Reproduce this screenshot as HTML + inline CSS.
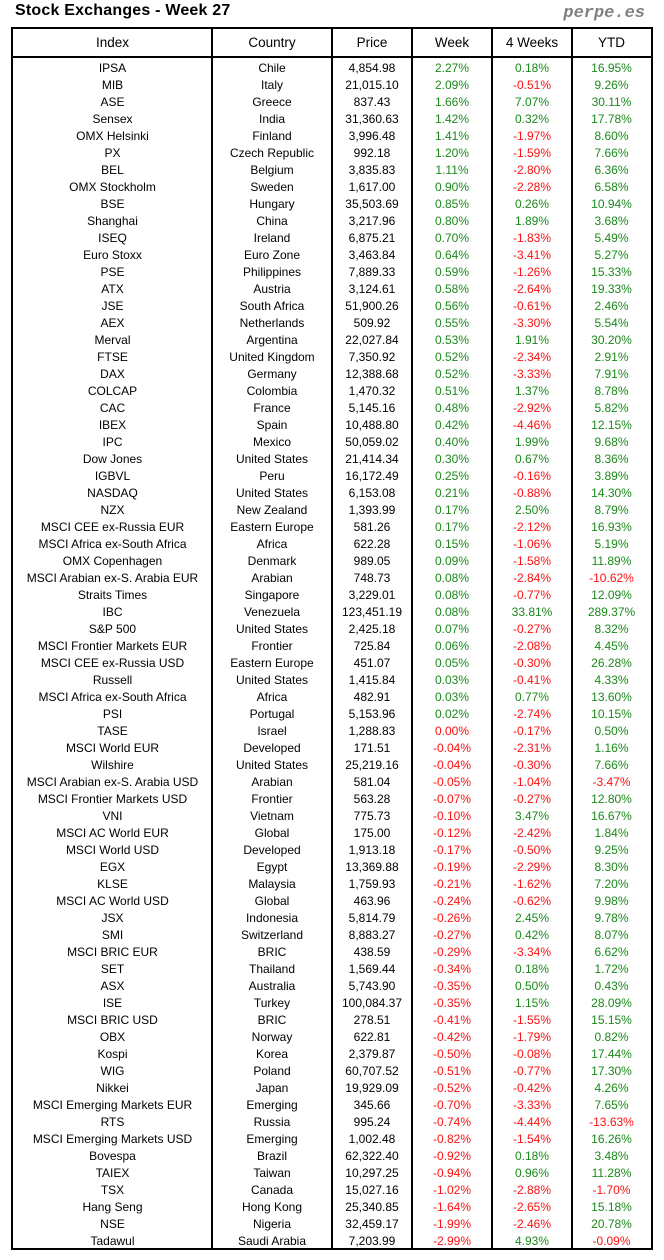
<!DOCTYPE html>
<html><head><meta charset="utf-8"><style>
body{margin:0;width:664px;height:1260px;background:#fff;position:relative;font-family:"Liberation Sans",sans-serif;overflow:hidden}
.t{position:absolute;left:15px;top:2px;font-size:16px;font-weight:600;letter-spacing:0.2px}
.p{position:absolute;right:19px;top:4px;font-family:"Liberation Mono",monospace;font-weight:bold;font-style:italic;font-size:17px;color:#808080}
.box{position:absolute;left:11px;top:27px;width:638px;height:1219px;border:2px solid #000}
.v{position:absolute;top:27px;height:1223px;width:2px;background:#000}
.h{position:absolute;left:11px;top:56px;width:642px;height:2px;background:#000}
.hd{position:absolute;top:29px;height:27px;display:flex;left:13px;font-size:13.5px;line-height:27px}
.rows{position:absolute;left:13px;top:60px;font-size:12px}
.r{display:flex;height:17px;line-height:17px}
.c{text-align:center;white-space:nowrap}
.c1{width:199px}.c2{width:120px}.c3{width:80px}.c4{width:80px}.c5{width:80px}.c6{width:79px}
.g{color:#1a8a1a}.n{color:#ff1010}
</style></head><body>
<div class="t">Stock Exchanges - Week 27</div>
<div class="p">perpe.es</div>
<div class="box"></div>
<div class="v" style="left:211px"></div>
<div class="v" style="left:331px"></div>
<div class="v" style="left:411px"></div>
<div class="v" style="left:491px"></div>
<div class="v" style="left:571px"></div>
<div class="h"></div>
<div class="hd"><div class="c c1">Index</div><div class="c c2">Country</div><div class="c c3">Price</div><div class="c c4">Week</div><div class="c c5">4 Weeks</div><div class="c c6">YTD</div></div>
<div class="rows">
<div class="r"><div class="c c1">IPSA</div><div class="c c2">Chile</div><div class="c c3">4,854.98</div><div class="c c4 g">2.27%</div><div class="c c5 g">0.18%</div><div class="c c6 g">16.95%</div></div>
<div class="r"><div class="c c1">MIB</div><div class="c c2">Italy</div><div class="c c3">21,015.10</div><div class="c c4 g">2.09%</div><div class="c c5 n">-0.51%</div><div class="c c6 g">9.26%</div></div>
<div class="r"><div class="c c1">ASE</div><div class="c c2">Greece</div><div class="c c3">837.43</div><div class="c c4 g">1.66%</div><div class="c c5 g">7.07%</div><div class="c c6 g">30.11%</div></div>
<div class="r"><div class="c c1">Sensex</div><div class="c c2">India</div><div class="c c3">31,360.63</div><div class="c c4 g">1.42%</div><div class="c c5 g">0.32%</div><div class="c c6 g">17.78%</div></div>
<div class="r"><div class="c c1">OMX Helsinki</div><div class="c c2">Finland</div><div class="c c3">3,996.48</div><div class="c c4 g">1.41%</div><div class="c c5 n">-1.97%</div><div class="c c6 g">8.60%</div></div>
<div class="r"><div class="c c1">PX</div><div class="c c2">Czech Republic</div><div class="c c3">992.18</div><div class="c c4 g">1.20%</div><div class="c c5 n">-1.59%</div><div class="c c6 g">7.66%</div></div>
<div class="r"><div class="c c1">BEL</div><div class="c c2">Belgium</div><div class="c c3">3,835.83</div><div class="c c4 g">1.11%</div><div class="c c5 n">-2.80%</div><div class="c c6 g">6.36%</div></div>
<div class="r"><div class="c c1">OMX Stockholm</div><div class="c c2">Sweden</div><div class="c c3">1,617.00</div><div class="c c4 g">0.90%</div><div class="c c5 n">-2.28%</div><div class="c c6 g">6.58%</div></div>
<div class="r"><div class="c c1">BSE</div><div class="c c2">Hungary</div><div class="c c3">35,503.69</div><div class="c c4 g">0.85%</div><div class="c c5 g">0.26%</div><div class="c c6 g">10.94%</div></div>
<div class="r"><div class="c c1">Shanghai</div><div class="c c2">China</div><div class="c c3">3,217.96</div><div class="c c4 g">0.80%</div><div class="c c5 g">1.89%</div><div class="c c6 g">3.68%</div></div>
<div class="r"><div class="c c1">ISEQ</div><div class="c c2">Ireland</div><div class="c c3">6,875.21</div><div class="c c4 g">0.70%</div><div class="c c5 n">-1.83%</div><div class="c c6 g">5.49%</div></div>
<div class="r"><div class="c c1">Euro Stoxx</div><div class="c c2">Euro Zone</div><div class="c c3">3,463.84</div><div class="c c4 g">0.64%</div><div class="c c5 n">-3.41%</div><div class="c c6 g">5.27%</div></div>
<div class="r"><div class="c c1">PSE</div><div class="c c2">Philippines</div><div class="c c3">7,889.33</div><div class="c c4 g">0.59%</div><div class="c c5 n">-1.26%</div><div class="c c6 g">15.33%</div></div>
<div class="r"><div class="c c1">ATX</div><div class="c c2">Austria</div><div class="c c3">3,124.61</div><div class="c c4 g">0.58%</div><div class="c c5 n">-2.64%</div><div class="c c6 g">19.33%</div></div>
<div class="r"><div class="c c1">JSE</div><div class="c c2">South Africa</div><div class="c c3">51,900.26</div><div class="c c4 g">0.56%</div><div class="c c5 n">-0.61%</div><div class="c c6 g">2.46%</div></div>
<div class="r"><div class="c c1">AEX</div><div class="c c2">Netherlands</div><div class="c c3">509.92</div><div class="c c4 g">0.55%</div><div class="c c5 n">-3.30%</div><div class="c c6 g">5.54%</div></div>
<div class="r"><div class="c c1">Merval</div><div class="c c2">Argentina</div><div class="c c3">22,027.84</div><div class="c c4 g">0.53%</div><div class="c c5 g">1.91%</div><div class="c c6 g">30.20%</div></div>
<div class="r"><div class="c c1">FTSE</div><div class="c c2">United Kingdom</div><div class="c c3">7,350.92</div><div class="c c4 g">0.52%</div><div class="c c5 n">-2.34%</div><div class="c c6 g">2.91%</div></div>
<div class="r"><div class="c c1">DAX</div><div class="c c2">Germany</div><div class="c c3">12,388.68</div><div class="c c4 g">0.52%</div><div class="c c5 n">-3.33%</div><div class="c c6 g">7.91%</div></div>
<div class="r"><div class="c c1">COLCAP</div><div class="c c2">Colombia</div><div class="c c3">1,470.32</div><div class="c c4 g">0.51%</div><div class="c c5 g">1.37%</div><div class="c c6 g">8.78%</div></div>
<div class="r"><div class="c c1">CAC</div><div class="c c2">France</div><div class="c c3">5,145.16</div><div class="c c4 g">0.48%</div><div class="c c5 n">-2.92%</div><div class="c c6 g">5.82%</div></div>
<div class="r"><div class="c c1">IBEX</div><div class="c c2">Spain</div><div class="c c3">10,488.80</div><div class="c c4 g">0.42%</div><div class="c c5 n">-4.46%</div><div class="c c6 g">12.15%</div></div>
<div class="r"><div class="c c1">IPC</div><div class="c c2">Mexico</div><div class="c c3">50,059.02</div><div class="c c4 g">0.40%</div><div class="c c5 g">1.99%</div><div class="c c6 g">9.68%</div></div>
<div class="r"><div class="c c1">Dow Jones</div><div class="c c2">United States</div><div class="c c3">21,414.34</div><div class="c c4 g">0.30%</div><div class="c c5 g">0.67%</div><div class="c c6 g">8.36%</div></div>
<div class="r"><div class="c c1">IGBVL</div><div class="c c2">Peru</div><div class="c c3">16,172.49</div><div class="c c4 g">0.25%</div><div class="c c5 n">-0.16%</div><div class="c c6 g">3.89%</div></div>
<div class="r"><div class="c c1">NASDAQ</div><div class="c c2">United States</div><div class="c c3">6,153.08</div><div class="c c4 g">0.21%</div><div class="c c5 n">-0.88%</div><div class="c c6 g">14.30%</div></div>
<div class="r"><div class="c c1">NZX</div><div class="c c2">New Zealand</div><div class="c c3">1,393.99</div><div class="c c4 g">0.17%</div><div class="c c5 g">2.50%</div><div class="c c6 g">8.79%</div></div>
<div class="r"><div class="c c1">MSCI CEE ex-Russia EUR</div><div class="c c2">Eastern Europe</div><div class="c c3">581.26</div><div class="c c4 g">0.17%</div><div class="c c5 n">-2.12%</div><div class="c c6 g">16.93%</div></div>
<div class="r"><div class="c c1">MSCI Africa ex-South Africa</div><div class="c c2">Africa</div><div class="c c3">622.28</div><div class="c c4 g">0.15%</div><div class="c c5 n">-1.06%</div><div class="c c6 g">5.19%</div></div>
<div class="r"><div class="c c1">OMX Copenhagen</div><div class="c c2">Denmark</div><div class="c c3">989.05</div><div class="c c4 g">0.09%</div><div class="c c5 n">-1.58%</div><div class="c c6 g">11.89%</div></div>
<div class="r"><div class="c c1">MSCI Arabian ex-S. Arabia EUR</div><div class="c c2">Arabian</div><div class="c c3">748.73</div><div class="c c4 g">0.08%</div><div class="c c5 n">-2.84%</div><div class="c c6 n">-10.62%</div></div>
<div class="r"><div class="c c1">Straits Times</div><div class="c c2">Singapore</div><div class="c c3">3,229.01</div><div class="c c4 g">0.08%</div><div class="c c5 n">-0.77%</div><div class="c c6 g">12.09%</div></div>
<div class="r"><div class="c c1">IBC</div><div class="c c2">Venezuela</div><div class="c c3">123,451.19</div><div class="c c4 g">0.08%</div><div class="c c5 g">33.81%</div><div class="c c6 g">289.37%</div></div>
<div class="r"><div class="c c1">S&amp;P 500</div><div class="c c2">United States</div><div class="c c3">2,425.18</div><div class="c c4 g">0.07%</div><div class="c c5 n">-0.27%</div><div class="c c6 g">8.32%</div></div>
<div class="r"><div class="c c1">MSCI Frontier Markets EUR</div><div class="c c2">Frontier</div><div class="c c3">725.84</div><div class="c c4 g">0.06%</div><div class="c c5 n">-2.08%</div><div class="c c6 g">4.45%</div></div>
<div class="r"><div class="c c1">MSCI CEE ex-Russia USD</div><div class="c c2">Eastern Europe</div><div class="c c3">451.07</div><div class="c c4 g">0.05%</div><div class="c c5 n">-0.30%</div><div class="c c6 g">26.28%</div></div>
<div class="r"><div class="c c1">Russell</div><div class="c c2">United States</div><div class="c c3">1,415.84</div><div class="c c4 g">0.03%</div><div class="c c5 n">-0.41%</div><div class="c c6 g">4.33%</div></div>
<div class="r"><div class="c c1">MSCI Africa ex-South Africa</div><div class="c c2">Africa</div><div class="c c3">482.91</div><div class="c c4 g">0.03%</div><div class="c c5 g">0.77%</div><div class="c c6 g">13.60%</div></div>
<div class="r"><div class="c c1">PSI</div><div class="c c2">Portugal</div><div class="c c3">5,153.96</div><div class="c c4 g">0.02%</div><div class="c c5 n">-2.74%</div><div class="c c6 g">10.15%</div></div>
<div class="r"><div class="c c1">TASE</div><div class="c c2">Israel</div><div class="c c3">1,288.83</div><div class="c c4 n">0.00%</div><div class="c c5 n">-0.17%</div><div class="c c6 g">0.50%</div></div>
<div class="r"><div class="c c1">MSCI World EUR</div><div class="c c2">Developed</div><div class="c c3">171.51</div><div class="c c4 n">-0.04%</div><div class="c c5 n">-2.31%</div><div class="c c6 g">1.16%</div></div>
<div class="r"><div class="c c1">Wilshire</div><div class="c c2">United States</div><div class="c c3">25,219.16</div><div class="c c4 n">-0.04%</div><div class="c c5 n">-0.30%</div><div class="c c6 g">7.66%</div></div>
<div class="r"><div class="c c1">MSCI Arabian ex-S. Arabia USD</div><div class="c c2">Arabian</div><div class="c c3">581.04</div><div class="c c4 n">-0.05%</div><div class="c c5 n">-1.04%</div><div class="c c6 n">-3.47%</div></div>
<div class="r"><div class="c c1">MSCI Frontier Markets USD</div><div class="c c2">Frontier</div><div class="c c3">563.28</div><div class="c c4 n">-0.07%</div><div class="c c5 n">-0.27%</div><div class="c c6 g">12.80%</div></div>
<div class="r"><div class="c c1">VNI</div><div class="c c2">Vietnam</div><div class="c c3">775.73</div><div class="c c4 n">-0.10%</div><div class="c c5 g">3.47%</div><div class="c c6 g">16.67%</div></div>
<div class="r"><div class="c c1">MSCI AC World EUR</div><div class="c c2">Global</div><div class="c c3">175.00</div><div class="c c4 n">-0.12%</div><div class="c c5 n">-2.42%</div><div class="c c6 g">1.84%</div></div>
<div class="r"><div class="c c1">MSCI World USD</div><div class="c c2">Developed</div><div class="c c3">1,913.18</div><div class="c c4 n">-0.17%</div><div class="c c5 n">-0.50%</div><div class="c c6 g">9.25%</div></div>
<div class="r"><div class="c c1">EGX</div><div class="c c2">Egypt</div><div class="c c3">13,369.88</div><div class="c c4 n">-0.19%</div><div class="c c5 n">-2.29%</div><div class="c c6 g">8.30%</div></div>
<div class="r"><div class="c c1">KLSE</div><div class="c c2">Malaysia</div><div class="c c3">1,759.93</div><div class="c c4 n">-0.21%</div><div class="c c5 n">-1.62%</div><div class="c c6 g">7.20%</div></div>
<div class="r"><div class="c c1">MSCI AC World USD</div><div class="c c2">Global</div><div class="c c3">463.96</div><div class="c c4 n">-0.24%</div><div class="c c5 n">-0.62%</div><div class="c c6 g">9.98%</div></div>
<div class="r"><div class="c c1">JSX</div><div class="c c2">Indonesia</div><div class="c c3">5,814.79</div><div class="c c4 n">-0.26%</div><div class="c c5 g">2.45%</div><div class="c c6 g">9.78%</div></div>
<div class="r"><div class="c c1">SMI</div><div class="c c2">Switzerland</div><div class="c c3">8,883.27</div><div class="c c4 n">-0.27%</div><div class="c c5 g">0.42%</div><div class="c c6 g">8.07%</div></div>
<div class="r"><div class="c c1">MSCI BRIC EUR</div><div class="c c2">BRIC</div><div class="c c3">438.59</div><div class="c c4 n">-0.29%</div><div class="c c5 n">-3.34%</div><div class="c c6 g">6.62%</div></div>
<div class="r"><div class="c c1">SET</div><div class="c c2">Thailand</div><div class="c c3">1,569.44</div><div class="c c4 n">-0.34%</div><div class="c c5 g">0.18%</div><div class="c c6 g">1.72%</div></div>
<div class="r"><div class="c c1">ASX</div><div class="c c2">Australia</div><div class="c c3">5,743.90</div><div class="c c4 n">-0.35%</div><div class="c c5 g">0.50%</div><div class="c c6 g">0.43%</div></div>
<div class="r"><div class="c c1">ISE</div><div class="c c2">Turkey</div><div class="c c3">100,084.37</div><div class="c c4 n">-0.35%</div><div class="c c5 g">1.15%</div><div class="c c6 g">28.09%</div></div>
<div class="r"><div class="c c1">MSCI BRIC USD</div><div class="c c2">BRIC</div><div class="c c3">278.51</div><div class="c c4 n">-0.41%</div><div class="c c5 n">-1.55%</div><div class="c c6 g">15.15%</div></div>
<div class="r"><div class="c c1">OBX</div><div class="c c2">Norway</div><div class="c c3">622.81</div><div class="c c4 n">-0.42%</div><div class="c c5 n">-1.79%</div><div class="c c6 g">0.82%</div></div>
<div class="r"><div class="c c1">Kospi</div><div class="c c2">Korea</div><div class="c c3">2,379.87</div><div class="c c4 n">-0.50%</div><div class="c c5 n">-0.08%</div><div class="c c6 g">17.44%</div></div>
<div class="r"><div class="c c1">WIG</div><div class="c c2">Poland</div><div class="c c3">60,707.52</div><div class="c c4 n">-0.51%</div><div class="c c5 n">-0.77%</div><div class="c c6 g">17.30%</div></div>
<div class="r"><div class="c c1">Nikkei</div><div class="c c2">Japan</div><div class="c c3">19,929.09</div><div class="c c4 n">-0.52%</div><div class="c c5 n">-0.42%</div><div class="c c6 g">4.26%</div></div>
<div class="r"><div class="c c1">MSCI Emerging Markets EUR</div><div class="c c2">Emerging</div><div class="c c3">345.66</div><div class="c c4 n">-0.70%</div><div class="c c5 n">-3.33%</div><div class="c c6 g">7.65%</div></div>
<div class="r"><div class="c c1">RTS</div><div class="c c2">Russia</div><div class="c c3">995.24</div><div class="c c4 n">-0.74%</div><div class="c c5 n">-4.44%</div><div class="c c6 n">-13.63%</div></div>
<div class="r"><div class="c c1">MSCI Emerging Markets USD</div><div class="c c2">Emerging</div><div class="c c3">1,002.48</div><div class="c c4 n">-0.82%</div><div class="c c5 n">-1.54%</div><div class="c c6 g">16.26%</div></div>
<div class="r"><div class="c c1">Bovespa</div><div class="c c2">Brazil</div><div class="c c3">62,322.40</div><div class="c c4 n">-0.92%</div><div class="c c5 g">0.18%</div><div class="c c6 g">3.48%</div></div>
<div class="r"><div class="c c1">TAIEX</div><div class="c c2">Taiwan</div><div class="c c3">10,297.25</div><div class="c c4 n">-0.94%</div><div class="c c5 g">0.96%</div><div class="c c6 g">11.28%</div></div>
<div class="r"><div class="c c1">TSX</div><div class="c c2">Canada</div><div class="c c3">15,027.16</div><div class="c c4 n">-1.02%</div><div class="c c5 n">-2.88%</div><div class="c c6 n">-1.70%</div></div>
<div class="r"><div class="c c1">Hang Seng</div><div class="c c2">Hong Kong</div><div class="c c3">25,340.85</div><div class="c c4 n">-1.64%</div><div class="c c5 n">-2.65%</div><div class="c c6 g">15.18%</div></div>
<div class="r"><div class="c c1">NSE</div><div class="c c2">Nigeria</div><div class="c c3">32,459.17</div><div class="c c4 n">-1.99%</div><div class="c c5 n">-2.46%</div><div class="c c6 g">20.78%</div></div>
<div class="r"><div class="c c1">Tadawul</div><div class="c c2">Saudi Arabia</div><div class="c c3">7,203.99</div><div class="c c4 n">-2.99%</div><div class="c c5 g">4.93%</div><div class="c c6 n">-0.09%</div></div>
</div>
</body></html>
